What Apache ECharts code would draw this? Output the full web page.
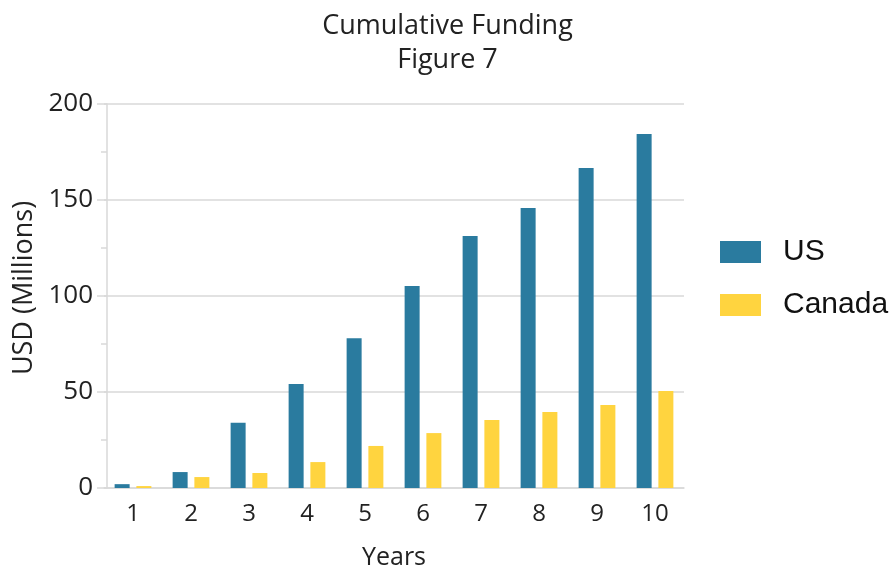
<!DOCTYPE html>
<html>
<head>
<meta charset="utf-8">
<script src="https://cdn.jsdelivr.net/npm/echarts@6/dist/echarts.min.js"></script>
<style>
  html, body { margin: 0; padding: 0; background: #fff; }
  #chart { width: 895px; height: 571px; }
</style>
</head>
<body>
<div id="chart"></div>
<script>
// Years along the x axis
const years = ['1', '2', '3', '4', '5', '6', '7', '8', '9', '10'];
// Cumulative funding, USD millions
const usFunding = [2, 8.3, 34, 54.2, 78, 105.2, 131.3, 145.8, 166.7, 184.4];
const canadaFunding = [1, 5.7, 7.8, 13.5, 21.9, 28.6, 35.4, 39.6, 43.2, 50.5];

const axisFont = 'Open Sans, Noto Sans, sans-serif';
const gridGray = '#d9d9d9';

const chart = echarts.init(document.getElementById('chart'));
chart.setOption({
  animation: false,
  backgroundColor: '#ffffff',
  title: {
    text: 'Cumulative Funding\nFigure 7',
    left: 'center',
    top: 4,
    textStyle: {
      fontFamily: axisFont,
      fontSize: 27,
      fontWeight: 'normal',
      color: '#222',
      lineHeight: 34
    }
  },
  legend: {
    orient: 'vertical',
    left: 715,
    top: 232,
    padding: 5,
    itemWidth: 41,
    itemHeight: 22,
    itemGap: 23,
    icon: 'rect',
    textStyle: {
      fontFamily: 'Liberation Sans, Arial, sans-serif',
      fontSize: 30,
      lineHeight: 30,
      color: '#111',
      padding: [0, 0, 0, 17]
    },
    data: ['US', 'Canada']
  },
  grid: { left: 104, right: 211, top: 104, bottom: 83, outerBoundsMode: 'none', containLabel: false },
  xAxis: {
    type: 'category',
    data: years,
    name: 'Years',
    nameLocation: 'middle',
    nameGap: 57,
    nameTextStyle: { fontFamily: axisFont, fontSize: 25, color: '#222' },
    axisLine: { lineStyle: { color: gridGray, width: 1.5 } },
    axisTick: { alignWithLabel: true, length: 9, lineStyle: { color: gridGray, width: 1.5 } },
    axisLabel: { fontFamily: axisFont, fontSize: 24, color: '#222', margin: 14 }
  },
  yAxis: {
    type: 'value',
    min: 0,
    max: 200,
    interval: 50,
    offset: -3,
    name: 'USD (Millions)',
    nameLocation: 'middle',
    nameGap: 65,
    nameTextStyle: { fontFamily: axisFont, fontSize: 27, color: '#222', padding: [0, 0, 0, 16] },
    axisLine: { show: true, lineStyle: { color: gridGray, width: 1.5 } },
    axisTick: { show: true, length: 10, lineStyle: { color: gridGray, width: 1.5 } },
    minorTick: { show: true, splitNumber: 2, length: 6, lineStyle: { color: gridGray, width: 1.5 } },
    splitLine: { lineStyle: { color: gridGray, width: 1.5 } },
    axisLabel: { fontFamily: axisFont, fontSize: 26, color: '#222', margin: 14 }
  },
  series: [
    {
      name: 'US',
      type: 'bar',
      data: usFunding,
      barWidth: 15,
      barGap: '45%',
      itemStyle: { color: '#2A7B9F' }
    },
    {
      name: 'Canada',
      type: 'bar',
      data: canadaFunding,
      barWidth: 15,
      barGap: '45%',
      itemStyle: { color: '#FFD43F' }
    }
  ]
});
</script>
</body>
</html>
